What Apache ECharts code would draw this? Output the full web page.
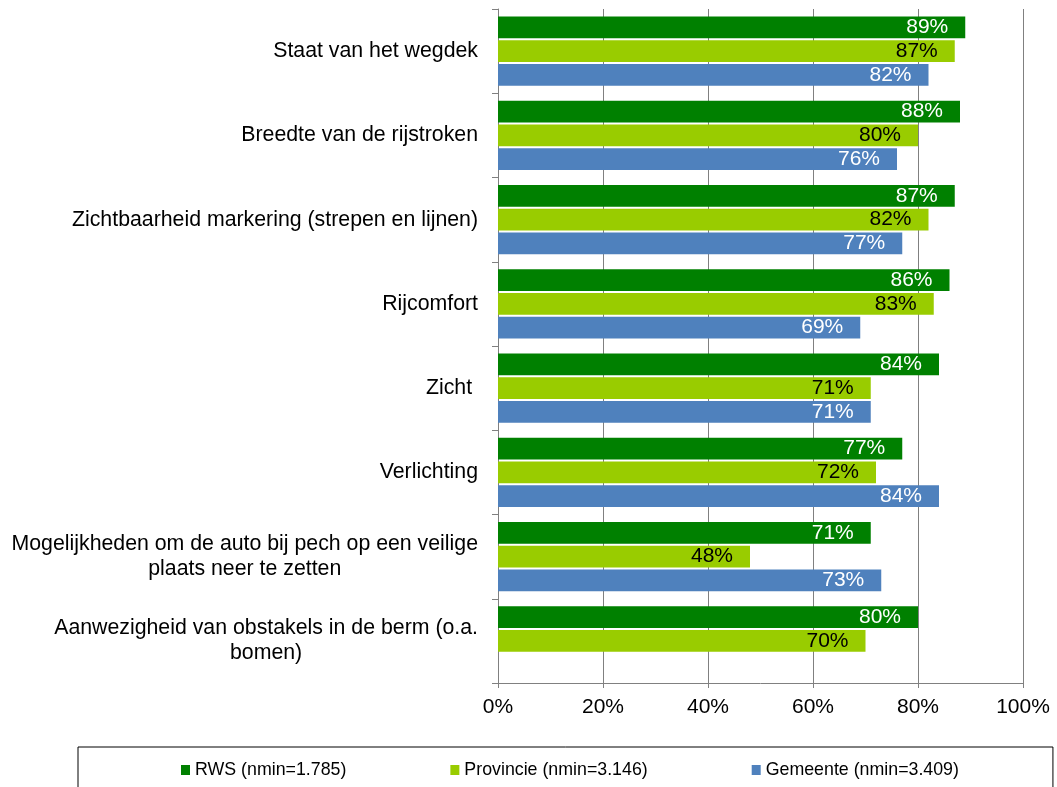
<!DOCTYPE html>
<html>
<head>
<meta charset="utf-8">
<title>Tevredenheid wegkenmerken</title>
<script src="https://cdn.jsdelivr.net/npm/echarts@6/dist/echarts.min.js"></script>
<style>
  html, body { margin: 0; padding: 0; background: #fff; }
  #chart { width: 1057px; height: 787px; }
</style>
</head>
<body>
<div id="chart"></div>
<script>
// categories (top to bottom)
const categories = [
  "Staat van het wegdek",
  "Breedte van de rijstroken",
  "Zichtbaarheid markering (strepen en lijnen)",
  "Rijcomfort",
  "Zicht ",
  "Verlichting",
  "Mogelijkheden om de auto bij pech op een veilige\nplaats neer te zetten",
  "Aanwezigheid van obstakels in de berm (o.a.\nbomen)"
];

// percentages per series
const rws = [89, 88, 87, 86, 84, 77, 71, 80];
const provincie = [87, 80, 82, 83, 71, 72, 48, 70];
const gemeente = [82, 76, 77, 69, 71, 84, 73, null];

const seriesNames = ["RWS (nmin=1.785)", "Provincie (nmin=3.146)", "Gemeente (nmin=3.409)"];
const xTicks = [0, 20, 40, 60, 80, 100];

const FONT = "'Liberation Sans', Arial, sans-serif";

const chart = echarts.init(document.getElementById("chart"));

function barSeries(name, data, color, labelColor) {
  return {
    name: name,
    type: "bar",
    data: data,
    barGap: "9%",
    barCategoryGap: "18%",
    itemStyle: { color: color },
    label: {
      show: true,
      position: "insideRight",
      distance: 17,
      formatter: "{c}%",
      color: labelColor,
      fontSize: 21,
      fontFamily: FONT
    }
  };
}

const option = {
  animation: false,
  backgroundColor: "#fff",
  textStyle: { fontFamily: FONT },
  grid: {
    left: 498,
    right: 34,
    top: 9,
    bottom: 104
  },
  xAxis: {
    type: "value",
    min: xTicks[0],
    max: xTicks[xTicks.length - 1],
    interval: xTicks[1] - xTicks[0],
    axisLine: { show: true, lineStyle: { color: "#808080", width: 1 } },
    axisTick: { show: true, length: 5, lineStyle: { color: "#808080" } },
    splitLine: { show: true, lineStyle: { color: "#808080", width: 1 } },
    axisLabel: {
      formatter: "{value}%",
      color: "#000",
      fontSize: 21,
      fontFamily: FONT,
      margin: 14
    }
  },
  yAxis: {
    type: "category",
    inverse: true,
    data: categories,
    axisLine: { show: true, lineStyle: { color: "#808080", width: 1 } },
    axisTick: { show: true, length: 6, inside: false, lineStyle: { color: "#808080" } },
    axisLabel: {
      margin: 20,
      align: "right",
      formatter: function (v) {
        return v.split("\n").map(function (l) { return "{c|" + l + "}"; }).join("\n");
      },
      rich: {
        c: {
          align: "center",
          fontSize: 21.3,
          lineHeight: 25,
          color: "#000",
          fontFamily: FONT
        }
      }
    }
  },
  legend: {
    left: 78,
    top: 747,
    width: 960,
    orient: "horizontal",
    itemWidth: 9,
    itemHeight: 10,
    itemGap: 104,
    icon: "rect",
    padding: [14, 94, 40, 103],
    borderColor: "#000",
    borderWidth: 1,
    textStyle: { fontSize: 17.8, color: "#000", fontFamily: FONT },
    data: seriesNames
  },
  series: [
    barSeries(seriesNames[0], rws, "#008000", "#fff"),
    barSeries(seriesNames[1], provincie, "#99cc00", "#000"),
    barSeries(seriesNames[2], gemeente, "#4f81bd", "#fff")
  ]
};

chart.setOption(option);
</script>
</body>
</html>
